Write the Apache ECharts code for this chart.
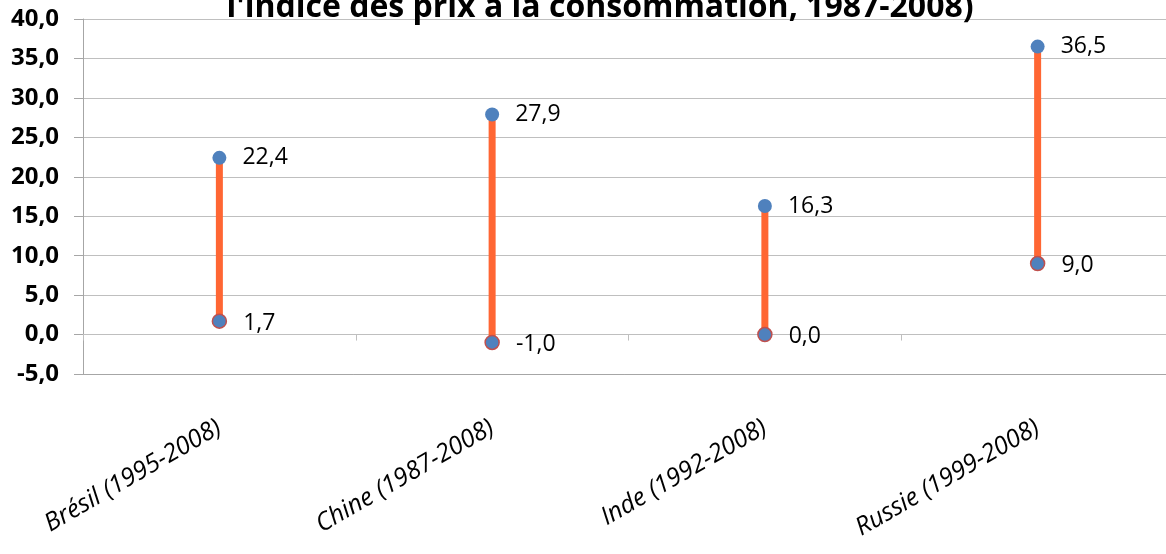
<!DOCTYPE html>
<html>
<head>
<meta charset="utf-8">
<script src="https://cdn.jsdelivr.net/npm/echarts@6/dist/echarts.min.js"></script>
<style>html,body{margin:0;padding:0;background:#fff}#c{width:1166px;height:554px}</style>
</head>
<body>
<div id="c"></div>
<script>
const titleText = "l'indice des prix à la consommation, 1987-2008)";
const categories = ['Brésil (1995-2008)', 'Chine (1987-2008)', 'Inde (1992-2008)', 'Russie (1999-2008)'];
const highValues = [22.4, 27.9, 16.3, 36.5];
const lowValues = [1.7, -1.0, 0.0, 9.0];
const yMin = -5, yMax = 40, yStep = 5;

const fmt = v => v.toFixed(1).replace('.', ',');
const FONT = 'Open Sans';

const chart = echarts.init(document.getElementById('c'), null, {renderer: 'canvas'});
chart.setOption({
  animation: false,
  backgroundColor: '#fff',
  graphic: [{
    type: 'text', x: 600, y: 24, z: 100,
    style: { text: titleText, fill: '#000', font: 'bold 32px "Open Sans"', textAlign: 'center', textVerticalAlign: 'bottom' }
  }],
  grid: { left: 83, width: 1091, top: 19, height: 355, containLabel: false, outerBoundsMode: 'none' },
  xAxis: [{
    type: 'category', data: categories, position: 'bottom', boundaryGap: true,
    axisLine: { onZero: false, lineStyle: { color: '#A6A6A6', width: 1 } },
    axisTick: { show: false },
    axisLabel: { rotate: 30, interval: 0, margin: 52, fontFamily: FONT, fontStyle: 'italic', fontSize: 25, color: '#000' },
    splitLine: { show: false }
  }, {
    type: 'category', data: categories, position: 'bottom', boundaryGap: true,
    axisLine: { onZero: true, onZeroAxisIndex: 0, lineStyle: { color: '#BFBFBF', width: 1 } },
    axisTick: { show: true, alignWithLabel: false, length: 6, lineStyle: { color: '#BFBFBF' } },
    axisLabel: { show: false },
    splitLine: { show: false }
  }],
  yAxis: {
    type: 'value', min: yMin, max: yMax, interval: yStep,
    axisLine: { show: true, lineStyle: { color: '#A6A6A6' } },
    axisTick: { show: true, length: 9, lineStyle: { color: '#A6A6A6' } },
    axisLabel: { formatter: fmt, fontFamily: FONT, fontWeight: 'bold', fontSize: 24, color: '#000', margin: 24 },
    splitLine: { show: true, lineStyle: { color: '#BFBFBF', width: 1 } }
  },
  series: [{
    type: 'custom',
    xAxisIndex: 0,
    data: categories.map((c, i) => [i, lowValues[i], highValues[i]]),
    renderItem: function (params, api) {
      const p1 = api.coord([api.value(0), api.value(1)]);
      const p2 = api.coord([api.value(0), api.value(2)]);
      return { type: 'line', shape: { x1: p1[0], y1: p1[1], x2: p2[0], y2: p2[1] },
        style: { stroke: '#FF6633', lineWidth: 7 } };
    },
    z: 2
  }, {
    type: 'scatter', xAxisIndex: 0, data: highValues, symbol: 'circle', symbolSize: 14,
    itemStyle: { color: '#4F81BD', opacity: 1 },
    label: { show: true, position: 'right', distance: 16, formatter: p => fmt(p.value), fontFamily: FONT, fontSize: 23, color: '#000' },
    z: 3
  }, {
    type: 'scatter', xAxisIndex: 0, data: lowValues, symbol: 'circle', symbolSize: 14,
    itemStyle: { color: '#4F81BD', borderColor: '#C0504D', borderWidth: 1.5, opacity: 1 },
    label: { show: true, position: 'right', distance: 16, formatter: p => fmt(p.value), fontFamily: FONT, fontSize: 23, color: '#000', offset: [0, 2] },
    z: 3
  }]
});
</script>
</body>
</html>
